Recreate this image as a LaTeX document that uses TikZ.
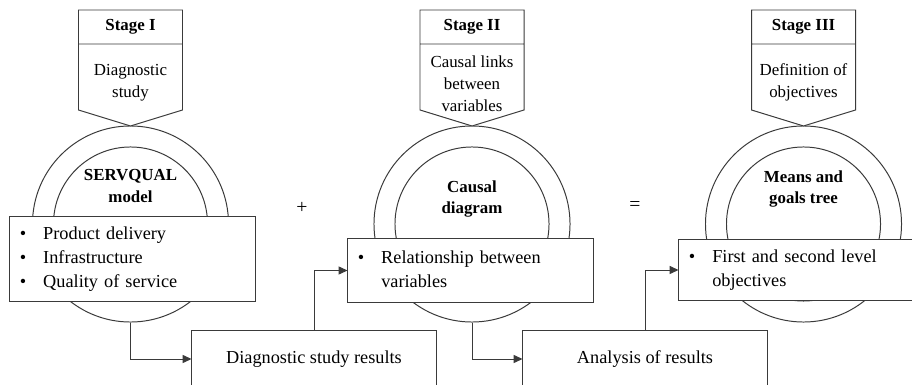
\documentclass[tikz,border=0pt]{standalone}
\usepackage{fontspec}
\setmainfont{Liberation Serif}
\usetikzlibrary{arrows.meta}
\definecolor{cline}{HTML}{3A3A3A}
\tikzset{
  every picture/.style={line width=0.7pt},
  stage/.style={draw=cline, fill=white},
  ring/.style={circle, draw=cline, fill=white, inner sep=0pt, minimum size=#1},
  box/.style={draw=cline, fill=white, inner xsep=0.25cm, inner ysep=0pt, minimum width=6.125cm,
    text width=5.625cm, align=left, font=\fontsize{13}{17}\selectfont},
  result/.style={draw=cline, fill=white, minimum width=6.1cm, minimum height=1.45cm, font=\fontsize{13}{17}\selectfont},
  arrow/.style={-{Triangle[length=0.22cm, width=0.2cm]}, draw=cline},
  head/.style={font=\bfseries\fontsize{12}{15}\selectfont},
  desc/.style={align=center, font=\fontsize{12}{15.5}\selectfont},
  ctext/.style={align=center, font=\bfseries\fontsize{12}{15}\selectfont},
  sign/.style={font=\fontsize{14}{16}\selectfont},
}
\newcommand{\bul}{\textbullet}

\begin{document}
\begin{tikzpicture}[x=0.025cm, y=-0.025cm]
  \useasboundingbox (0,0) rectangle (912,385);
  % rings
  \foreach \x/\n in {130.5/1,472/2,803.5/3} {
    \node[ring=4.9cm] (c\n) at (\x,224) {};
    \node[ring=3.85cm] (i\n) at (\x,224) {};
  }
  % stage headers
  \foreach \x in {130.5,472,803.5}
    \draw[stage] (\x-52,10) -- (\x+52,10) -- (\x+52,110) -- (\x,126) -- (\x-52,110) -- cycle
      (\x-52,44) -- (\x+52,44);
  \node[head] (s1) at (130.5,27) {Stage I};
  \node[head] (s2) at (472,27) {Stage II};
  \node[head] (s3) at (803.5,27) {Stage III};
  \node[desc] (d1) at (130.5,83) {Diagnostic\\study};
  \node[desc] (d2) at (472,84) {Causal links\\between\\variables};
  \node[desc] (d3) at (803.5,82) {Definition of\\objectives};
  % tools
  \node[ctext] (t1) at (130.5,186) {SERVQUAL\\model};
  \node[ctext] (t2) at (472,199) {Causal\\diagram};
  \node[ctext] (t3) at (803.5,189) {Means and\\goals tree};
  \node[sign] (plus) at (302,208) {+};
  \node[sign] (eq) at (635,206) {=};
  % findings
  \node[box, minimum height=2.1cm] (b1) at (132.5,259)
    {\begin{tabular}{@{}l@{\hspace{12pt}}p{4.05cm}@{}}\bul & Product delivery\\ \bul & Infrastructure\\ \bul & Quality of service\end{tabular}};
  \node[box, minimum height=1.575cm] (b2) at (470.5,270.5)
    {\begin{tabular}{@{}l@{\hspace{12pt}}p{4.05cm}@{}}\bul & Relationship between variables\end{tabular}};
  \node[box, minimum height=1.5cm] (b3) at (801.5,270)
    {\begin{tabular}{@{}l@{\hspace{12pt}}p{4.3cm}@{}}\bul & First and second level objectives\end{tabular}};
  \node[result] (res) at (314,359) {Diagnostic study results};
  \node[result] (ana) at (645,359) {Analysis of results};
  % flow
  \draw[arrow] (c1.south) |- (res.west);
  \draw[arrow] (res.north) |- (b2.west);
  \draw[arrow] (c2.south) |- (ana.west);
  \draw[arrow] (ana.north) |- (b3.west);
\end{tikzpicture}
\end{document}
